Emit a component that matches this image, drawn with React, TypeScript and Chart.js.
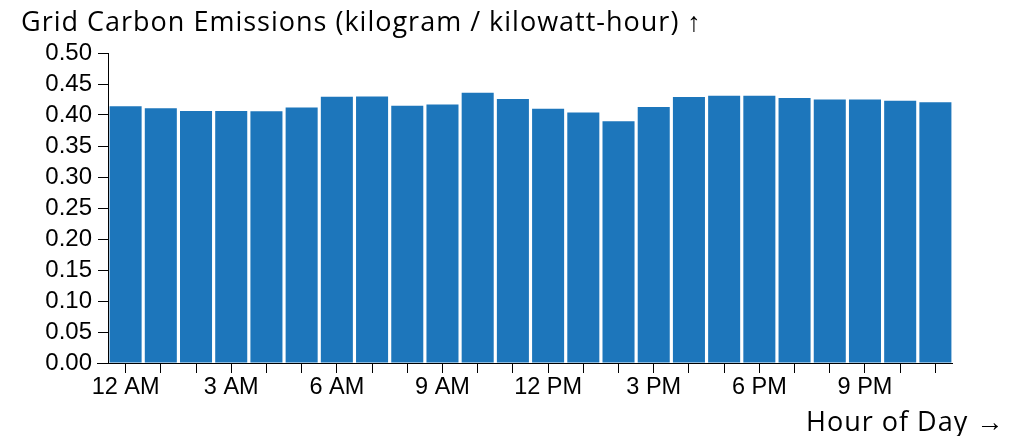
import React, { useEffect, useRef } from "react";
import { Chart, registerables } from "chart.js";

Chart.register(...registerables);

const hours = [
  "12 AM", "1 AM", "2 AM", "3 AM", "4 AM", "5 AM", "6 AM", "7 AM", "8 AM", "9 AM", "10 AM", "11 AM",
  "12 PM", "1 PM", "2 PM", "3 PM", "4 PM", "5 PM", "6 PM", "7 PM", "8 PM", "9 PM", "10 PM", "11 PM",
];
const emissions = [
  0.414, 0.411, 0.4065, 0.4065, 0.406, 0.412, 0.4295, 0.43, 0.415, 0.417, 0.436, 0.426,
  0.41, 0.404, 0.39, 0.413, 0.429, 0.431, 0.431, 0.4275, 0.425, 0.425, 0.423, 0.4205,
];
const yTicks = [0, 0.05, 0.1, 0.15, 0.2, 0.25, 0.3, 0.35, 0.4, 0.45, 0.5];
const yTitle = "Grid Carbon Emissions (kilogram / kilowatt-hour) \u2191";
const xTitle = "Hour of Day \u2192";

const titlesPlugin = {
  id: "axisTitles",
  afterDraw(chart: any) {
    const { ctx, chartArea } = chart;
    ctx.save();
    ctx.fillStyle = "#000";
    ctx.font = '27px "Open Sans"';
    try {
      (ctx as any).letterSpacing = "1px";
    } catch (e) {}
    ctx.textBaseline = "alphabetic";
    ctx.textAlign = "left";
    ctx.fillText(yTitle, 21, 31);
    ctx.fillText(xTitle, 806, 431);
    try {
      (ctx as any).letterSpacing = "0px";
    } catch (e) {}
    // x axis baseline (extends slightly left of the y axis)
    ctx.strokeStyle = "#000";
    ctx.lineWidth = 1;
    const y = Math.round(chartArea.bottom) + 0.5;
    ctx.beginPath();
    ctx.moveTo(chartArea.left - 11, y);
    ctx.lineTo(chartArea.right, y);
    ctx.stroke();
    ctx.restore();
  },
};

export default function App() {
  const ref = useRef<HTMLCanvasElement | null>(null);

  useEffect(() => {
    document.body.style.margin = "0";
    const canvas = ref.current!;
    const chart = new Chart(canvas, {
      type: "bar",
      data: {
        labels: hours,
        datasets: [
          {
            data: emissions,
            backgroundColor: "#1d76bb",
            barPercentage: 0.91,
            categoryPercentage: 1,
          },
        ],
      },
      options: {
        animation: false,
        responsive: false,
        devicePixelRatio: 1,
        layout: { padding: { left: 0, top: 53, right: 67, bottom: 0 } },
        plugins: {
          legend: { display: false },
          tooltip: { enabled: false },
          title: { display: false },
        },
        scales: {
          x: {
            afterFit(scale: any) {
              scale.height = 73;
            },
            border: { display: false },
            grid: {
              display: true,
              offset: false,
              drawOnChartArea: false,
              drawTicks: true,
              tickLength: 10,
              color: "#000",
            },
            ticks: {
              autoSkip: false,
              maxRotation: 0,
              minRotation: 0,
              padding: 0,
              color: "#000",
              font: { family: '"Liberation Sans", Arial, sans-serif', size: 23.5 },
              callback: (_v: any, i: number) => (i % 3 === 0 ? hours[i] : ""),
            },
          },
          y: {
            min: 0,
            max: 0.5,
            afterFit(scale: any) {
              scale.width = 108;
            },
            afterBuildTicks(scale: any) {
              scale.ticks = yTicks.map((v) => ({ value: v }));
            },
            border: { display: true, color: "#000", width: 1 },
            grid: {
              display: true,
              drawOnChartArea: false,
              drawTicks: true,
              tickLength: 10,
              color: "#000",
            },
            ticks: {
              autoSkip: false,
              padding: 6,
              color: "#000",
              font: { family: '"Liberation Sans", Arial, sans-serif', size: 24 },
              callback: (v: any) => Number(v).toFixed(2),
            },
          },
        },
      },
      plugins: [titlesPlugin],
    });
    return () => chart.destroy();
  }, []);

  return <canvas ref={ref} width={1020} height={436} style={{ display: "block" }} />;
}
